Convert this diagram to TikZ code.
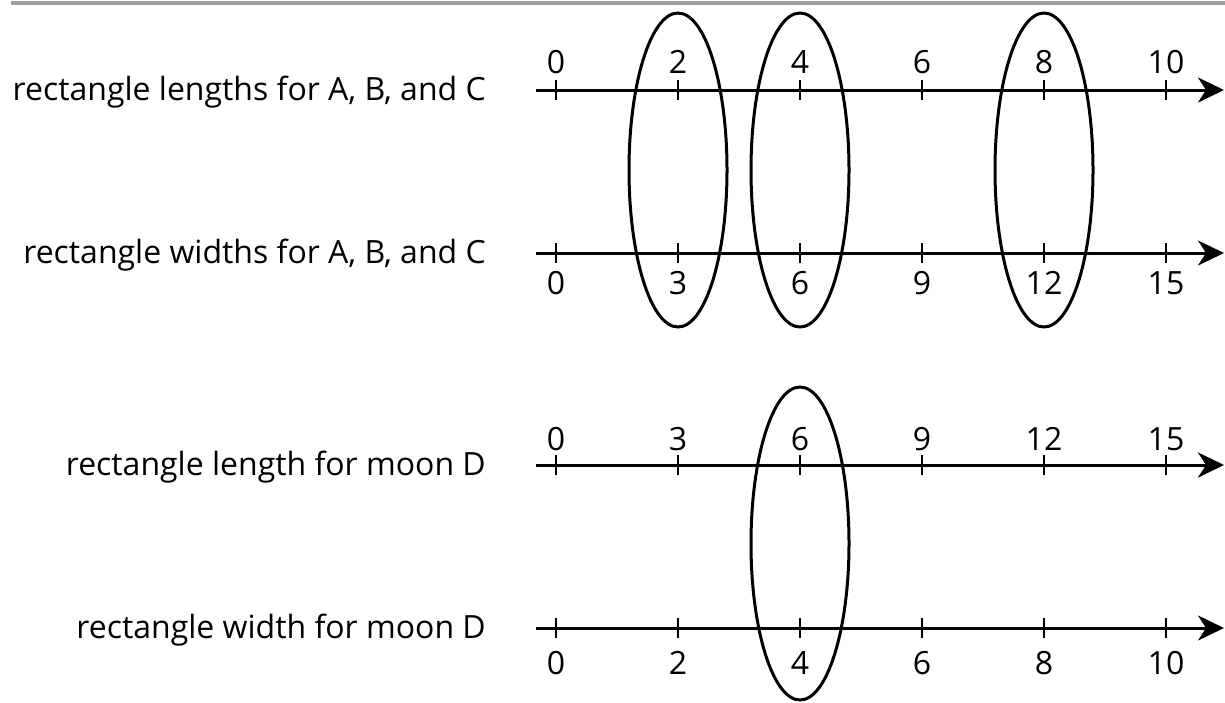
\documentclass[tikz,border=0pt]{standalone}
\usepackage{fontspec}
\setmainfont{Open Sans}
\usetikzlibrary{arrows.meta}
\begin{document}
\begin{tikzpicture}[x=1pt,y=-1pt,
  axis/.style={line width=3pt,-{Stealth[length=26pt,width=25pt,inset=8pt]}},
  tick/.style={line width=1.3pt},
  num/.style={anchor=base,inner sep=0pt,font=\fontsize{32}{36}\selectfont},
  lbl/.style={anchor=base east,inner sep=0pt,font=\fontsize{32}{36}\selectfont},
  oval/.style={line width=3pt},
  rule/.style={line width=4pt,draw=black!38}]
\useasboundingbox (0,0) rectangle (1225,702);
\coordinate (r0) at (11,3);
\coordinate (r1) at (1225,3);
\draw[rule] (r0) -- (r1);
% labels
\node[lbl] (t1) at (486,100) {rectangle lengths for A, B, and C};
\node[lbl] (t2) at (486,263) {rectangle widths for A, B, and C};
\node[lbl] (t3) at (486,475) {rectangle length for moon D};
\node[lbl] (t4) at (486,638) {rectangle width for moon D};
% axes
\foreach \i/\y in {1/90,2/253,3/465,4/628}{
  \coordinate (s\i) at (536,\y);
  \coordinate (e\i) at (1224,\y);
  \draw[axis] (s\i) -- (e\i);
  \foreach \k in {0,...,5}{
    \coordinate (k\i-\k) at (556+122*\k,\y);
    \draw[tick] ([yshift=-10pt]k\i-\k) -- ([yshift=10pt]k\i-\k);
  }
}
% numbers
\foreach \k/\v in {0/0,1/2,2/4,3/6,4/8,5/10}{\node[num] (a\k) at (556+122*\k,73) {\v};}
\foreach \k/\v in {0/0,1/3,2/6,3/9,4/12,5/15}{\node[num] (b\k) at (556+122*\k,294) {\v};}
\foreach \k/\v in {0/0,1/3,2/6,3/9,4/12,5/15}{\node[num] (c\k) at (556+122*\k,450) {\v};}
\foreach \k/\v in {0/0,1/2,2/4,3/6,4/8,5/10}{\node[num] (d\k) at (556+122*\k,674) {\v};}
% ovals
\draw[oval] (678,170) ellipse [x radius=49pt, y radius=157pt];
\draw[oval] (800,170) ellipse [x radius=49pt, y radius=157pt];
\draw[oval] (1044,170) ellipse [x radius=49pt, y radius=157pt];
\draw[oval] (800,543.5) ellipse [x radius=49pt, y radius=156.5pt];
\end{tikzpicture}
\end{document}
